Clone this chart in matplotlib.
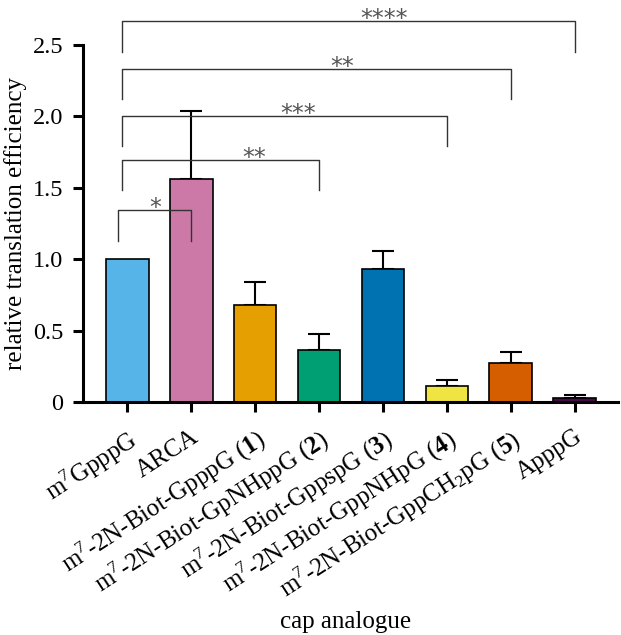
import numpy as np
import matplotlib
matplotlib.use('Agg')
import matplotlib.pyplot as plt

plt.rcParams['font.family'] = ['Liberation Serif', 'DejaVu Serif']
plt.rcParams['mathtext.fontset'] = 'custom'
plt.rcParams['mathtext.rm'] = 'Liberation Serif'
plt.rcParams['mathtext.it'] = 'Liberation Serif:italic'
plt.rcParams['mathtext.bf'] = 'Liberation Serif:bold'

# 数据
labels = [r'm$^7$GpppG', 'ARCA',
          r'm$^7$-2N-Biot-GpppG ($\mathbf{1}$)',
          r'm$^7$-2N-Biot-GpNHppG ($\mathbf{2}$)',
          r'm$^7$-2N-Biot-GppspG ($\mathbf{3}$)',
          r'm$^7$-2N-Biot-GppNHpG ($\mathbf{4}$)',
          r'm$^7$-2N-Biot-GppCH$_2$pG ($\mathbf{5}$)',
          'ApppG']
values = [1.0, 1.56, 0.68, 0.364, 0.93, 0.112, 0.275, 0.03]
errors = [0.0, 0.48, 0.16, 0.112, 0.13, 0.042, 0.077, 0.019]
colors = ['#56B4E9', '#CC79A7', '#E69F00', '#009E73', '#0072B2', '#F0E442', '#D55E00', '#4A0A48']

# 显著性标记: 右端位置, 横线高度, 腿底高度, 文本, 文本x位置
sig_right = [1, 3, 5, 6, 7]
sig_y = [1.345, 1.695, 2.0, 2.33, 2.67]
sig_leg = [1.13, 1.485, 1.79, 2.12, 2.45]
sig_text = ['*', '**', '***', '**', '****']
sig_tx = [0.44, 1.98, 2.67, 3.36, 4.01]

fig = plt.figure(figsize=(6.21, 6.35), dpi=100)
ax = fig.add_axes([0.1337, 0.367, 0.861, 0.562])

x = np.arange(len(values))
ax.bar(x, values, width=0.67, color=colors, edgecolor='black', linewidth=1.2, zorder=2)
# 只画上误差棒
for i in range(len(values)):
    if errors[i] > 0:
        ax.errorbar(x[i], values[i], yerr=[[0], [errors[i]]], fmt='none', ecolor='black',
                    elinewidth=1.5, capsize=8, capthick=1.5, zorder=1)

# 显著性括号
for i in range(len(sig_right)):
    left = -0.08 if i > 0 else -0.14
    r = sig_right[i]
    ax.plot([left, left, r, r], [sig_leg[i], sig_y[i], sig_y[i], sig_leg[i]],
            color='#333333', linewidth=1.0, clip_on=False, zorder=3)
    ax.text(sig_tx[i], sig_y[i] - 0.035, sig_text[i], ha='center', va='baseline',
            fontsize=17, color='#555555', clip_on=False, family=['DejaVu Sans'])

ax.set_xlim(-0.69, 7.67)
ax.set_ylim(0, 2.5)
ax.set_yticks([0, 0.5, 1.0, 1.5, 2.0, 2.5])
ax.set_yticklabels(['0', '0.5', '1.0', '1.5', '2.0', '2.5'], fontsize=17.5)
ax.set_xticks(x)
ax.set_xticklabels(labels, rotation=33, ha='right', rotation_mode='anchor', fontsize=18)

for s in ['top', 'right']:
    ax.spines[s].set_visible(False)
for s in ['left', 'bottom']:
    ax.spines[s].set_linewidth(2.2)
ax.tick_params(axis='both', width=2.2, length=7, direction='out')
ax.tick_params(axis='x', pad=10)
ax.tick_params(axis='y', pad=7)

ax.set_ylabel('relative translation efficiency', fontsize=18, labelpad=4)
fig.text(0.556, 0.02, 'cap analogue', ha='center', va='center', fontsize=18)

plt.savefig('out.png', dpi=100)
